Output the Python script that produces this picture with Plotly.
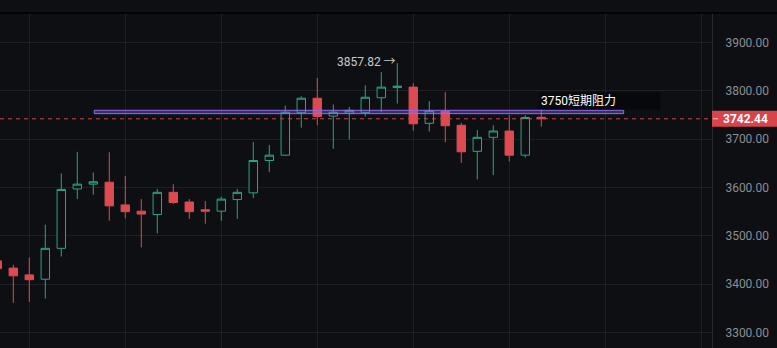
import plotly.graph_objects as go

# ---- data ----
candle_index = list(range(-1, 34))
open_ = [3448, 3433, 3419, 3410, 3474, 3597, 3607, 3611, 3564, 3551, 3544, 3590,
         3570, 3554, 3551, 3575, 3589, 3656, 3667, 3755, 3785, 3748, 3754, 3755,
         3786, 3807, 3808, 3733, 3758, 3729, 3675, 3704, 3717, 3667, 3745.5]
high = [3455, 3440, 3455, 3523, 3629, 3674, 3631, 3673, 3624, 3576, 3597, 3607,
        3576, 3572, 3581, 3597, 3694, 3688, 3770, 3789, 3827, 3772, 3767, 3812,
        3839, 3857.82, 3816, 3779, 3798, 3734, 3719, 3729, 3750, 3750, 3763]
low = [3425, 3361, 3363, 3370, 3457, 3576, 3585, 3531, 3536, 3476, 3505, 3566,
       3535, 3525, 3531, 3535, 3578, 3632, 3666, 3724, 3729, 3680, 3700, 3747,
       3756, 3774, 3718, 3716, 3694, 3651, 3617, 3626, 3654, 3662, 3726]
close = [3432, 3417, 3409, 3474, 3596, 3607, 3612, 3562, 3550, 3545, 3590, 3569,
         3550, 3551, 3576, 3590, 3656, 3667, 3756, 3785, 3747, 3756, 3760, 3787,
         3808, 3810, 3732, 3759, 3728, 3674, 3704, 3717, 3667, 3745, 3742.44]

last_price = 3742.44
peak_price = 3857.82
peak_index = 24
resist_low, resist_high = 3753, 3760
resist_start, resist_end = 5.06, 38.15
resist_label = "3750短期阻力"
label_index = 33

BG = "#0e0f12"
GRID = "#1e2024"
GREEN = "#2fa383"
RED = "#dc4b50"

fig = go.Figure()
fig.add_trace(go.Candlestick(
    x=candle_index, open=open_, high=high, low=low, close=close,
    increasing=dict(line=dict(color=GREEN, width=1), fillcolor=BG),
    decreasing=dict(line=dict(color=RED, width=1), fillcolor=RED),
    whiskerwidth=0, showlegend=False, hoverinfo="skip",
))

# current price dashed line
fig.add_shape(type="line", xref="paper", x0=0, x1=1, yref="y",
              y0=last_price, y1=last_price,
              line=dict(color="#c9464b", width=1, dash="4px,4px"), layer="above")
# resistance rectangle
fig.add_shape(type="rect", xref="x", yref="y", x0=resist_start, x1=resist_end,
              y0=resist_low, y1=resist_high,
              line=dict(color="#8e6bf5", width=1),
              fillcolor="rgba(142,107,245,0.35)", layer="above")
# price box on the axis
fig.add_shape(type="rect", xref="paper", x0=1.0, x1=1.1, yref="y",
              ysizemode="pixel", yanchor=last_price, y0=-8, y1=8,
              line=dict(width=0), fillcolor="#d9434a", layer="above")
fig.add_shape(type="line", xref="paper", x0=1.0015, x1=1.0085, yref="y",
              y0=last_price, y1=last_price,
              line=dict(color="#f0d0d0", width=1), layer="above")
# top separator line
fig.add_shape(type="line", xref="paper", yref="paper", x0=0, x1=1.1, y0=1.003, y1=1.003,
              line=dict(color="#000000", width=1.5), layer="above")

fig.add_annotation(xref="paper", x=1.0, xanchor="left", xshift=9,
                   yref="y", y=last_price, yanchor="middle",
                   text="<b>%.2f</b>" % last_price, showarrow=False,
                   font=dict(color="#ffffff", size=12, family="Roboto"))
fig.add_annotation(x=peak_index, y=peak_price, xanchor="right", xshift=1, yshift=1,
                   text="%.2f →" % peak_price, showarrow=False,
                   font=dict(color="#c8cad0", size=12, family="Roboto, Noto Sans CJK SC"))
fig.add_annotation(x=label_index, y=3779, xanchor="left", xshift=-2, yanchor="middle",
                   text=resist_label, showarrow=False, width=118, align="left",
                   bgcolor="rgba(6,7,9,0.75)",
                   font=dict(color="#ffffff", size=12, family="Roboto, Noto Sans CJK SC"))

fig.update_layout(
    width=777, height=348,
    margin=dict(l=0, r=65, t=14, b=0),
    paper_bgcolor=BG, plot_bgcolor=BG,
    boxgap=0.25,
    xaxis=dict(range=[-0.831, 43.67], tick0=1, dtick=6, showgrid=True, gridcolor=GRID,
               gridwidth=1, showticklabels=False, zeroline=False, showline=False,
               rangeslider=dict(visible=False)),
    yaxis=dict(range=[3267.5, 3959.5], side="right", dtick=100, tick0=3300,
               tickformat=".2f", showgrid=True, gridcolor=GRID, zeroline=False,
               showline=True, linecolor="#26282c", linewidth=1,
               ticklabelstandoff=10,
               tickfont=dict(color="#8a8e96", size=12, family="Roboto")),
    hovermode=False,
)

fig.write_html("out.html")
